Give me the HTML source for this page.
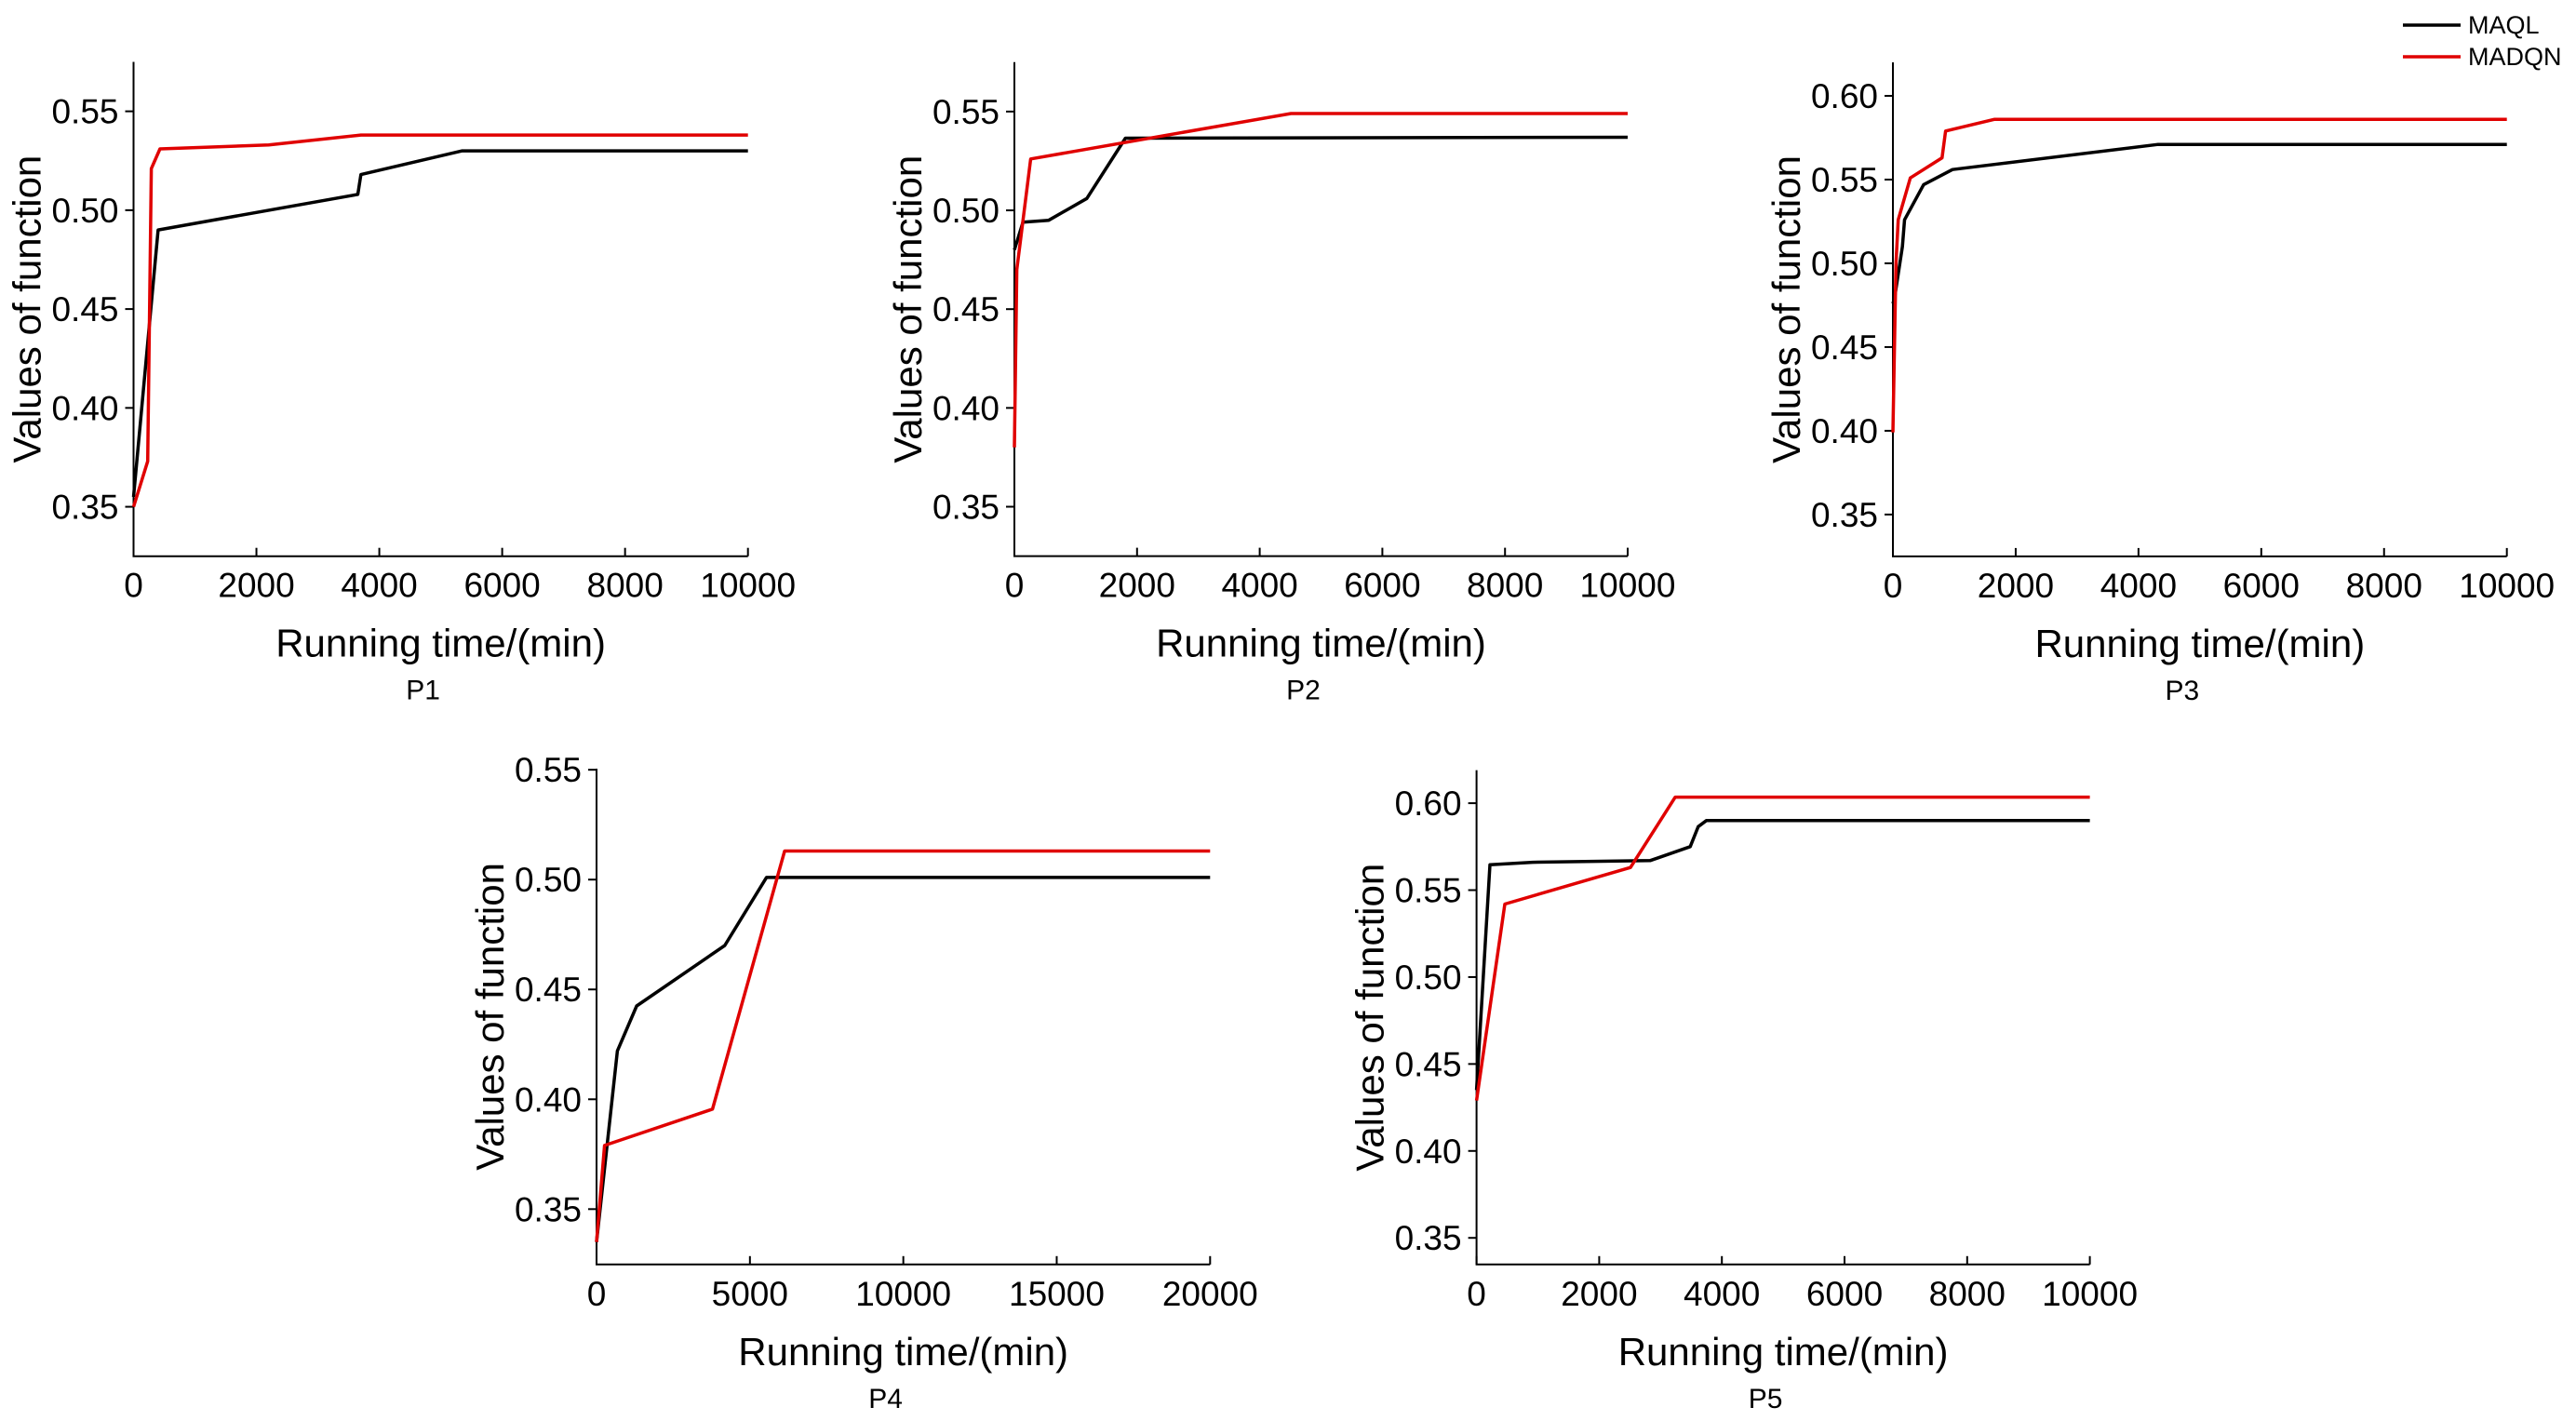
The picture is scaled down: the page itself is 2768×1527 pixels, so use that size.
<!DOCTYPE html>
<html><head><meta charset="utf-8"><style>
html,body{margin:0;padding:0;background:#fff;}
svg{display:block;font-family:"Liberation Sans",Arial,sans-serif;}
</style></head><body>
<svg id="fig" width="2768" height="1527" viewBox="0 0 2768 1527" xmlns="http://www.w3.org/2000/svg">
<g>
<line x1="2582" y1="27" x2="2644" y2="27" stroke="#000" stroke-width="3.5"/>
<text x="2652" y="36" font-size="27">MAQL</text>
<line x1="2582" y1="61" x2="2644" y2="61" stroke="#e00000" stroke-width="3.5"/>
<text x="2652" y="70" font-size="27">MADQN</text>
</g>
</svg>
<script>
// ---- data ----
const p1MaqlX = [0, 400, 3650, 3700, 5350, 10000];
const p1MaqlY = [0.355, 0.490, 0.508, 0.518, 0.530, 0.530];
const p1MadqnX = [0, 230, 290, 430, 2200, 3700, 10000];
const p1MadqnY = [0.350, 0.373, 0.521, 0.531, 0.533, 0.538, 0.538];

const p2MaqlX = [0, 140, 560, 1180, 1810, 10000];
const p2MaqlY = [0.480, 0.494, 0.495, 0.506, 0.5365, 0.537];
const p2MadqnX = [0, 40, 100, 266, 4510, 10000];
const p2MadqnY = [0.380, 0.470, 0.485, 0.526, 0.549, 0.549];

const p3MaqlX = [0, 26, 155, 190, 500, 970, 4320, 10000];
const p3MaqlY = [0.476, 0.479, 0.510, 0.526, 0.547, 0.556, 0.571, 0.571];
const p3MadqnX = [0, 50, 86, 283, 800, 858, 1657, 10000];
const p3MadqnY = [0.399, 0.500, 0.526, 0.551, 0.563, 0.579, 0.586, 0.586];

const p4MaqlX = [0, 680, 1307, 4180, 5540, 20000];
const p4MaqlY = [0.335, 0.422, 0.4425, 0.470, 0.501, 0.501];
const p4MadqnX = [0, 261, 3780, 6130, 20000];
const p4MadqnY = [0.335, 0.379, 0.3955, 0.513, 0.513];

const p5MaqlX = [0, 218, 915, 2830, 3484, 3615, 3746, 10000];
const p5MaqlY = [0.435, 0.5646, 0.566, 0.567, 0.575, 0.5865, 0.590, 0.590];
const p5MadqnX = [0, 462, 2510, 3240, 10000];
const p5MadqnY = [0.429, 0.542, 0.563, 0.6035, 0.6035];

const xTicksA = [0, 2000, 4000, 6000, 8000, 10000];
const xTicksB = [0, 5000, 10000, 15000, 20000];
const yTicksA = [0.35, 0.40, 0.45, 0.50, 0.55];
const yTicksB = [0.35, 0.40, 0.45, 0.50, 0.55, 0.60];
const panelLabels = ['P1', 'P2', 'P3', 'P4', 'P5'];

// ---- layout ----
const panels = [
  {x0:143.5, x1:803.7, top:66.5, bottom:597.7, xmax:10000, ymin:0.325, ymax:0.575, xt:xTicksA, yt:yTicksA, mx:p1MaqlX, my:p1MaqlY, dx:p1MadqnX, dy:p1MadqnY},
  {x0:1090, x1:1749, top:66.8, bottom:597.6, xmax:10000, ymin:0.325, ymax:0.575, xt:xTicksA, yt:yTicksA, mx:p2MaqlX, my:p2MaqlY, dx:p2MadqnX, dy:p2MadqnY},
  {x0:2034, x1:2693.7, top:67, bottom:597.9, xmax:10000, ymin:0.325, ymax:0.62, xt:xTicksA, yt:yTicksB, mx:p3MaqlX, my:p3MaqlY, dx:p3MadqnX, dy:p3MadqnY},
  {x0:641, x1:1300.3, top:826, bottom:1358.8, xmax:20000, ymin:0.3248, ymax:0.5505, xt:xTicksB, yt:yTicksA, mx:p4MaqlX, my:p4MaqlY, dx:p4MadqnX, dy:p4MadqnY},
  {x0:1586.6, x1:2245.6, top:827.6, bottom:1358.8, xmax:10000, ymin:0.3347, ymax:0.619, xt:xTicksA, yt:yTicksB, mx:p5MaqlX, my:p5MaqlY, dx:p5MadqnX, dy:p5MadqnY}
];
const NS = 'http://www.w3.org/2000/svg';
const svg = document.getElementById('fig');
function mk(tag, attrs, parent) {
  const e = document.createElementNS(NS, tag);
  for (const k in attrs) e.setAttribute(k, attrs[k]);
  parent.appendChild(e);
  return e;
}
panels.forEach((p, i) => {
  const g = mk('g', {}, svg);
  
  
  const sx = v => p.x0 + (v / p.xmax) * (p.x1 - p.x0);
  const sy = v => p.bottom - (v - p.ymin) / (p.ymax - p.ymin) * (p.bottom - p.top);
  const ax = mk('path', {d: `M${p.x0},${p.top} L${p.x0},${p.bottom} L${p.x1},${p.bottom}`, fill: 'none', stroke: '#000', 'stroke-width': 2}, g);
  
  
  p.xt.forEach(t => {
    const x = sx(t);
    const tk = mk('line', {x1: x, y1: p.bottom, x2: x, y2: p.bottom - 9, stroke: '#000', 'stroke-width': 2}, g);
    
    
    const tl = mk('text', {x: x, y: p.bottom + 44, 'font-size': 37, 'text-anchor': 'middle'}, g);
    tl.textContent = String(t);
    
    
  });
  p.yt.forEach(t => {
    const y = sy(t);
    const tk = mk('line', {x1: p.x0 - 9, y1: y, x2: p.x0, y2: y, stroke: '#000', 'stroke-width': 2}, g);
    
    
    const tl = mk('text', {x: p.x0 - 16, y: y + 13, 'font-size': 37, 'text-anchor': 'end'}, g);
    tl.textContent = t.toFixed(2);
    
    
  });
  const cx = (p.x0 + p.x1) / 2, cy = (p.top + p.bottom) / 2;
  const xt = mk('text', {x: cx, y: p.bottom + 108, 'font-size': 42, 'text-anchor': 'middle'}, g);
  xt.textContent = 'Running time/(min)';
  
  
  const yx = p.x0 - 100;
  const yt = mk('text', {x: yx, y: cy, 'font-size': 42, 'text-anchor': 'middle', transform: `rotate(-90 ${yx} ${cy})`}, g);
  yt.textContent = 'Values of function';
  
  
  const pl = mk('text', {x: cx - 19, y: p.bottom + 154, 'font-size': 30, 'text-anchor': 'middle'}, g);
  pl.textContent = panelLabels[i];
  
  
  const series = [[p.mx, p.my, '#000', 'line-maql'], [p.dx, p.dy, '#e00000', 'line-madqn']];
  series.forEach(([xs, ys, col, nm]) => {
    const pts = xs.map((v, j) => sx(v).toFixed(1) + ',' + sy(ys[j]).toFixed(1)).join(' ');
    const pl2 = mk('polyline', {points: pts, fill: 'none', stroke: col, 'stroke-width': 3.5, 'stroke-linejoin': 'round'}, g);
    
    
  });
});
</script>
</body></html>
